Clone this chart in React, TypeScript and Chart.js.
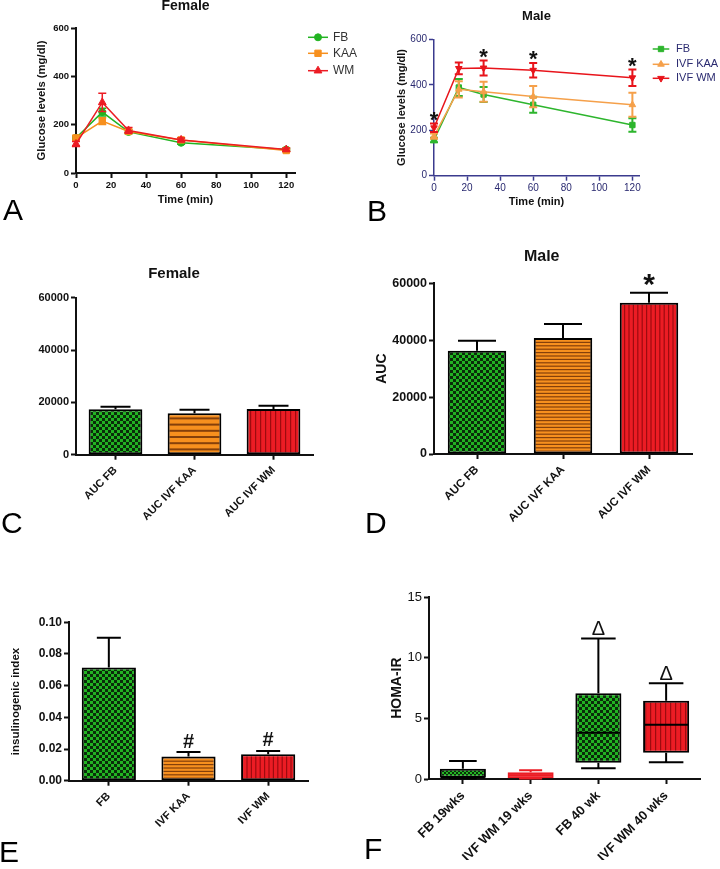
import React, { useEffect, useRef } from 'react';
import { Chart, registerables } from 'chart.js';

Chart.register(...registerables);

// ---------------- DATA ----------------
// Panel A – female glucose tolerance (mg/dl)
const timeMin = [0, 15, 30, 60, 120];
const timeTicks = [0, 20, 40, 60, 80, 100, 120];
const glucoseTicks = [0, 200, 400, 600];
const femaleSeries = ['FB', 'KAA', 'WM'];
const femaleFB = [145, 252, 170, 125, 97];
const femaleFBErr = [8, 16, 8, 6, 5];
const femaleKAA = [145, 215, 172, 137, 93];
const femaleKAAErr = [10, 14, 8, 8, 5];
const femaleWM = [120, 292, 176, 137, 97];
const femaleWMErr = [10, 38, 12, 8, 6];

// Panel B – male glucose tolerance (mg/dl)
const maleSeries = ['FB', 'IVF KAA', 'IVF WM'];
const maleFB = [157, 388, 357, 312, 223];
const maleFBErr = [10, 37, 33, 35, 30];
const maleKAA = [174, 380, 369, 348, 312];
const maleKAAErr = [12, 36, 44, 47, 53];
const maleWM = [211, 472, 474, 464, 431];
const maleWMErr = [19, 26, 33, 32, 36];
const maleSigTimes = [0, 30, 60, 120];

// Panels C / D – AUC
const aucLabels = ['AUC FB', 'AUC IVF KAA', 'AUC IVF WM'];
const aucTicks = [0, 20000, 40000, 60000];
const femaleAUC = [17350, 15800, 17470];
const femaleAUCErr = [1000, 1400, 1200];
const maleAUC = [36300, 40770, 53200];
const maleAUCErr = [3500, 4900, 3500];
const maleAUCSig = ['', '', '*'];

// Panel E – insulinogenic index
const insLabels = ['FB', 'IVF KAA', 'IVF WM'];
const insTicks = [0, 0.02, 0.04, 0.06, 0.08, 0.1];
const insIndex = [0.0714, 0.0152, 0.0167];
const insIndexErr = [0.0189, 0.0029, 0.0021];
const insSig = ['', '#', '#'];

// Panel F – HOMA-IR box plots
const homaLabels = ['FB 19wks', 'IVF WM 19 wks', 'FB 40 wk', 'IVF WM 40 wks'];
const homaTicks = [0, 5, 10, 15];
const homaMin = [0.05, 0.05, 0.88, 1.38];
const homaQ1 = [0.1, 0.06, 1.35, 2.17];
const homaMedian = [0.12, 0.3, 3.82, 4.48];
const homaQ3 = [0.85, 0.55, 7.08, 6.47];
const homaMax = [1.49, 0.72, 11.6, 7.9];
const homaSig = ['', '', '\u0394', '\u0394'];

// ---------------- STYLE ----------------
const FONT = "'Liberation Sans', Arial, Helvetica, sans-serif";
const f = (size: number, weight: string = 'normal') => ({ family: FONT, size, weight, lineHeight: 1.2 });
const css = (size: number, weight: string = 'normal') => `${weight} ${size}px ${FONT}`;

const GREEN = '#22B422';
const GREEN_DARK = '#0A2E0A';
const ORANGE = '#F7901E';
const ORANGE_LINE = '#85400A';
const RED = '#EC1C24';
const RED_LINE = '#9E0B0F';
const B_GREEN = '#2DB52D';
const B_ORANGE = '#F5A04A';
const B_RED = '#E8141B';
const NAVY_AXIS = '#3B3B8E';
const NAVY_TEXT = '#2A2A70';
const INK = '#111111';

type Box = { W: number; H: number; L: number; T: number; R: number; B: number };

// ---------------- PATTERNS ----------------
function checker(ctx: CanvasRenderingContext2D, cell: number, light: string, dark: string) {
  const c = document.createElement('canvas');
  c.width = c.height = cell * 2;
  const g = c.getContext('2d')!;
  g.fillStyle = light;
  g.fillRect(0, 0, cell * 2, cell * 2);
  g.fillStyle = dark;
  g.fillRect(0, 0, cell, cell);
  g.fillRect(cell, cell, cell, cell);
  return ctx.createPattern(c, 'repeat');
}
function stripes(ctx: CanvasRenderingContext2D, period: number, lineW: number, bg: string, fg: string, vertical: boolean) {
  const n = 5;
  const size = Math.round(period * n);
  const c = document.createElement('canvas');
  c.width = vertical ? size : 4;
  c.height = vertical ? 4 : size;
  const g = c.getContext('2d')!;
  g.fillStyle = bg;
  g.fillRect(0, 0, c.width, c.height);
  g.fillStyle = fg;
  for (let k = 0; k < n; k++) {
    const p = (k * size) / n;
    if (vertical) g.fillRect(p, 0, lineW, c.height);
    else g.fillRect(0, p, c.width, lineW);
  }
  return ctx.createPattern(c, 'repeat');
}

// ---------------- PLUGINS ----------------
function drawMarker(ctx: CanvasRenderingContext2D, style: string, x: number, y: number, r: number, rotDeg: number, color: string) {
  ctx.save();
  ctx.fillStyle = color;
  ctx.strokeStyle = color;
  ctx.lineWidth = 1;
  ctx.beginPath();
  if (style === 'circle') {
    ctx.arc(x, y, r, 0, Math.PI * 2);
  } else if (style === 'rect') {
    const s = r / Math.SQRT2;
    ctx.rect(x - s, y - s, 2 * s, 2 * s);
  } else {
    let rad = (rotDeg * Math.PI) / 180;
    ctx.moveTo(x + Math.sin(rad) * r, y - Math.cos(rad) * r);
    rad += (2 * Math.PI) / 3;
    ctx.lineTo(x + Math.sin(rad) * r, y - Math.cos(rad) * r);
    rad += (2 * Math.PI) / 3;
    ctx.lineTo(x + Math.sin(rad) * r, y - Math.cos(rad) * r);
  }
  ctx.closePath();
  ctx.fill();
  ctx.stroke();
  ctx.restore();
}

const errorBarPlugin = {
  id: 'errorBars',
  beforeDatasetDraw(chart: any, args: any) {
    const ds = chart.data.datasets[args.index];
    if (!ds.errors) return;
    const meta = args.meta;
    const ys = chart.scales[meta.yAxisID];
    const ctx = chart.ctx;
    ctx.save();
    ctx.strokeStyle = ds.errorColor;
    ctx.lineWidth = ds.errorWidth;
    meta.data.forEach((el: any, j: number) => {
      const v = meta.controller.getParsed(j).y;
      const e = ds.errors[j];
      const x = el.x;
      const yTop = ys.getPixelForValue(v + e);
      const yMid = ys.getPixelForValue(v);
      const both = ds.errorDir === 'both';
      const yBot = both ? ys.getPixelForValue(v - e) : yMid;
      const cw = ds.errorCap;
      ctx.beginPath();
      ctx.moveTo(x, yBot);
      ctx.lineTo(x, yTop);
      ctx.moveTo(x - cw / 2, yTop);
      ctx.lineTo(x + cw / 2, yTop);
      if (both) {
        ctx.moveTo(x - cw / 2, yBot);
        ctx.lineTo(x + cw / 2, yBot);
      }
      ctx.stroke();
    });
    ctx.restore();
  },
};

const boxPlugin = {
  id: 'boxWhiskers',
  afterDatasetDraw(chart: any, args: any) {
    const ds = chart.data.datasets[args.index];
    if (!ds.boxMedian) return;
    const meta = args.meta;
    const ys = chart.scales[meta.yAxisID];
    const ctx = chart.ctx;
    ctx.save();
    ctx.lineWidth = 2;
    meta.data.forEach((el: any, j: number) => {
      const x = el.x;
      const w = el.width;
      const [q1, q3] = ds.data[j];
      const cw = w * ds.capRatio[j];
      ctx.strokeStyle = ds.whiskerColor[j];
      const yMax = ys.getPixelForValue(ds.boxMax[j]);
      const yMin = ys.getPixelForValue(ds.boxMin[j]);
      const yQ1 = ys.getPixelForValue(q1);
      const yQ3 = ys.getPixelForValue(q3);
      const yMed = ys.getPixelForValue(ds.boxMedian[j]);
      ctx.beginPath();
      ctx.moveTo(x, yQ3);
      ctx.lineTo(x, yMax);
      ctx.moveTo(x - cw / 2, yMax);
      ctx.lineTo(x + cw / 2, yMax);
      ctx.moveTo(x, yQ1);
      ctx.lineTo(x, yMin);
      ctx.moveTo(x - cw / 2, yMin);
      ctx.lineTo(x + cw / 2, yMin);
      ctx.moveTo(x - w / 2 + 1, yMed);
      ctx.lineTo(x + w / 2 - 1, yMed);
      ctx.stroke();
    });
    ctx.restore();
  },
};

const sigPlugin = {
  id: 'sigMarks',
  afterDatasetsDraw(chart: any) {
    const ctx = chart.ctx;
    chart.data.datasets.forEach((ds: any, i: number) => {
      if (!ds.sigMarks) return;
      const meta = chart.getDatasetMeta(i);
      const ys = chart.scales[meta.yAxisID];
      meta.data.forEach((el: any, j: number) => {
        const mark = ds.sigMarks[j];
        if (!mark) return;
        let top: number;
        if (ds.boxMax) top = ds.boxMax[j];
        else top = meta.controller.getParsed(j).y + (ds.errors ? ds.errors[j] : 0);
        const yc = ys.getPixelForValue(top) - ds.sigGap;
        ctx.save();
        ctx.font = ds.sigFont;
        ctx.fillStyle = INK;
        ctx.textAlign = 'center';
        ctx.textBaseline = 'alphabetic';
        const m = ctx.measureText(mark);
        const base = yc + (m.actualBoundingBoxAscent - m.actualBoundingBoxDescent) / 2;
        ctx.fillText(mark, el.x, base);
        ctx.restore();
      });
    });
  },
};

const lineLegendPlugin = {
  id: 'lineLegend',
  afterDraw(chart: any, _args: any, opts: any) {
    const ctx = chart.ctx;
    chart.data.datasets.forEach((ds: any, i: number) => {
      const y = opts.ys[i];
      ctx.save();
      ctx.strokeStyle = ds.borderColor;
      ctx.lineWidth = 1.5;
      ctx.beginPath();
      ctx.moveTo(opts.x0, y);
      ctx.lineTo(opts.x1, y);
      ctx.stroke();
      drawMarker(ctx, ds.pointStyle, (opts.x0 + opts.x1) / 2, y, ds.pointRadius, ds.pointRotation || 0, ds.borderColor);
      ctx.fillStyle = opts.color;
      ctx.font = opts.font;
      ctx.textAlign = 'left';
      ctx.textBaseline = 'middle';
      ctx.fillText(ds.label, opts.textX, y);
      ctx.restore();
    });
  },
};

const panelTitlePlugin = {
  id: 'panelTitle',
  afterDraw(chart: any, _args: any, opts: any) {
    const ctx = chart.ctx;
    ctx.save();
    ctx.font = opts.font;
    ctx.fillStyle = INK;
    ctx.textAlign = 'center';
    ctx.textBaseline = 'middle';
    ctx.fillText(opts.text, opts.x, opts.y);
    ctx.restore();
  },
};

// ---------------- AXIS HELPERS ----------------
const setTicks = (vals: number[]) => (scale: any) => {
  scale.ticks = vals.map((v) => ({ value: v }));
};

function axisStyle(color: string, tickLen: number, width: number) {
  return {
    border: { display: true, color, width },
    grid: { display: true, drawOnChartArea: false, drawTicks: true, tickLength: tickLen, tickWidth: width, tickColor: color, color, offset: false },
  };
}

function yAxis(box: Box, max: number, tickVals: number[], fmt: (v: number) => string, tickFont: any, tickColor: string, axisColor: string, axisW: number, title?: { text: string; size: number; cx: number }) {
  const s: any = {
    type: 'linear',
    position: 'left',
    min: 0,
    max,
    afterBuildTicks: setTicks(tickVals),
    afterFit: (sc: any) => {
      sc.width = box.L;
    },
    ...axisStyle(axisColor, 5, axisW),
    ticks: { font: tickFont, color: tickColor, padding: 2, autoSkip: false, callback: (v: number) => fmt(v) },
  };
  if (title) {
    s.title = { display: true, text: title.text, font: f(title.size, 'bold'), color: INK, padding: { top: title.cx - title.size * 0.6, bottom: 0 } };
  }
  return s;
}

function xLinear(box: Box, max: number, tickVals: number[], tickFont: any, tickColor: string, axisColor: string, axisW: number, title: { text: string; size: number; cy: number }) {
  return {
    type: 'linear',
    position: 'bottom',
    min: 0,
    max,
    afterBuildTicks: setTicks(tickVals),
    afterFit: (sc: any) => {
      sc.height = box.H - box.B;
    },
    ...axisStyle(axisColor, 5, axisW),
    ticks: { font: tickFont, color: tickColor, padding: 2, maxRotation: 0, autoSkip: false },
    title: { display: true, text: title.text, font: f(title.size, 'bold'), color: INK, padding: { top: 0, bottom: box.H - title.cy - title.size * 0.6 } },
  };
}

function xCategory(box: Box, tickFont: any) {
  return {
    type: 'category',
    position: 'bottom',
    offset: true,
    afterFit: (sc: any) => {
      sc.height = box.H - box.B;
    },
    ...axisStyle(INK, 5, 2),
    ticks: { font: tickFont, color: INK, padding: 4, minRotation: 45, maxRotation: 45, autoSkip: false },
  };
}

function baseOptions(box: Box) {
  return {
    responsive: false,
    maintainAspectRatio: false,
    animation: false,
    devicePixelRatio: 1,
    events: [],
    layout: { padding: { left: 0, top: box.T, right: box.W - box.R, bottom: 0 } },
  };
}
const hidden = { legend: { display: false }, tooltip: { enabled: false }, title: { display: false } };

function lineDs(label: string, ys: number[], errs: number[], color: string, style: string, rot: number, r: number, order: number, errW: number) {
  return {
    label,
    data: timeMin.map((t, i) => ({ x: t, y: ys[i] })),
    borderColor: color,
    backgroundColor: color,
    borderWidth: 1.5,
    pointStyle: style,
    pointRotation: rot,
    pointRadius: r,
    pointBackgroundColor: color,
    pointBorderColor: color,
    pointBorderWidth: 1,
    tension: 0,
    clip: false,
    order,
    errors: errs,
    errorDir: 'both',
    errorCap: 8,
    errorWidth: errW,
    errorColor: color,
  };
}

// ---------------- PANEL BUILDERS ----------------
function buildA() {
  const box: Box = { W: 360, H: 214, L: 76, T: 28, R: 295, B: 173 };
  return {
    type: 'line',
    data: {
      datasets: [
        lineDs(femaleSeries[0], femaleFB, femaleFBErr, GREEN, 'circle', 0, 3.5, 2, 1.5),
        lineDs(femaleSeries[1], femaleKAA, femaleKAAErr, ORANGE, 'rect', 0, 4.5, 1, 1.5),
        lineDs(femaleSeries[2], femaleWM, femaleWMErr, RED, 'triangle', 0, 4.5, 0, 1.5),
      ],
    },
    options: {
      ...baseOptions(box),
      plugins: {
        ...hidden,
        panelTitle: { text: 'Female', x: 185.5, y: 6, font: css(14, 'bold') },
        lineLegend: { x0: 308, x1: 328, textX: 333, ys: [37.3, 53.3, 70.7], font: css(12), color: '#333333' },
      },
      scales: {
        x: xLinear(box, 125, timeTicks, f(9.5, 'bold'), INK, INK, 2, { text: 'Time (min)', size: 11, cy: 200 }),
        y: yAxis(box, 600, glucoseTicks, (v) => String(v), f(9.5, 'bold'), INK, INK, 2, { text: 'Glucose levels (mg/dl)', size: 11.3, cx: 42 }),
      },
    },
    plugins: [errorBarPlugin, panelTitlePlugin, lineLegendPlugin],
  };
}

function buildB() {
  const box: Box = { W: 360, H: 214, L: 74, T: 39.3, R: 279, B: 175.7 };
  const wm: any = lineDs(maleSeries[2], maleWM, maleWMErr, B_RED, 'triangle', 180, 3.8, 0, 2);
  wm.sigMarks = timeMin.map((t) => (maleSigTimes.includes(t) ? '*' : ''));
  wm.sigFont = css(22, 'bold');
  wm.sigGap = 7;
  return {
    type: 'line',
    data: {
      datasets: [
        lineDs(maleSeries[0], maleFB, maleFBErr, B_GREEN, 'rect', 0, 3.8, 2, 2),
        lineDs(maleSeries[1], maleKAA, maleKAAErr, B_ORANGE, 'triangle', 0, 3.8, 1, 2),
        wm,
      ],
    },
    options: {
      ...baseOptions(box),
      plugins: {
        ...hidden,
        panelTitle: { text: 'Male', x: 176.5, y: 16, font: css(13, 'bold') },
        lineLegend: { x0: 292.7, x1: 309.3, textX: 316, ys: [49, 64.3, 78.3], font: css(11), color: NAVY_TEXT },
      },
      scales: {
        x: xLinear(box, 124, timeTicks, f(10), NAVY_TEXT, NAVY_AXIS, 1.5, { text: 'Time (min)', size: 11, cy: 201.7 }),
        y: yAxis(box, 600, glucoseTicks, (v) => String(v), f(10), NAVY_TEXT, NAVY_AXIS, 1.5, { text: 'Glucose levels (mg/dl)', size: 11, cx: 42.3 }),
      },
    },
    plugins: [errorBarPlugin, sigPlugin, panelTitlePlugin, lineLegendPlugin],
  };
}

function barConfig(box: Box, labels: string[], values: number[], errs: number[], pats: any[], o: any) {
  const ds: any = {
    data: values,
    backgroundColor: pats,
    borderColor: '#000000',
    borderWidth: 2,
    borderSkipped: false,
    barPercentage: 0.68,
    categoryPercentage: 1,
    clip: false,
    errors: errs,
    errorDir: 'up',
    errorCap: o.errCap,
    errorWidth: 2,
    errorColor: '#000000',
  };
  if (o.sig) {
    ds.sigMarks = o.sig;
    ds.sigFont = o.sigFont;
    ds.sigGap = o.sigGap;
  }
  const plugins: any = { ...hidden };
  if (o.title) plugins.panelTitle = o.title;
  return {
    type: 'bar',
    data: { labels, datasets: [ds] },
    options: {
      ...baseOptions(box),
      plugins,
      scales: {
        x: xCategory(box, o.xFont),
        y: yAxis(box, o.yMax, o.yTicks, o.fmt, o.yFont, INK, INK, 2, o.yTitle),
      },
    },
    plugins: [errorBarPlugin, sigPlugin, panelTitlePlugin],
  };
}

function buildC(ctx: CanvasRenderingContext2D) {
  const box: Box = { W: 360, H: 290, L: 76, T: 47.7, R: 313, B: 204.7 };
  const pats = [checker(ctx, 3, GREEN, GREEN_DARK), stripes(ctx, 6.2, 2, ORANGE, ORANGE_LINE, false), stripes(ctx, 5, 1.2, RED, RED_LINE, true)];
  return barConfig(box, aucLabels, femaleAUC, femaleAUCErr, pats, {
    errCap: 30,
    xFont: f(11, 'bold'),
    yFont: f(11, 'bold'),
    yMax: 60000,
    yTicks: aucTicks,
    fmt: (v: number) => String(v),
    title: { text: 'Female', x: 174, y: 24, font: css(15, 'bold') },
  });
}

function buildD(ctx: CanvasRenderingContext2D) {
  const box: Box = { W: 360, H: 290, L: 74, T: 33.3, R: 332, B: 204 };
  const pats = [checker(ctx, 3, GREEN, GREEN_DARK), stripes(ctx, 3.4, 1.2, ORANGE, ORANGE_LINE, false), stripes(ctx, 4.3, 1.2, RED, RED_LINE, true)];
  return barConfig(box, aucLabels, maleAUC, maleAUCErr, pats, {
    errCap: 38,
    xFont: f(11.5, 'bold'),
    yFont: f(12.5, 'bold'),
    yMax: 60000,
    yTicks: aucTicks,
    fmt: (v: number) => String(v),
    yTitle: { text: 'AUC', size: 14, cx: 22 },
    title: { text: 'Male', x: 181.7, y: 6.5, font: css(16, 'bold') },
    sig: maleAUCSig,
    sigFont: css(30, 'bold'),
    sigGap: 12.7,
  });
}

function buildE(ctx: CanvasRenderingContext2D) {
  const box: Box = { W: 360, H: 300, L: 69, T: 62.3, R: 308, B: 220.7 };
  const pats = [checker(ctx, 3, GREEN, GREEN_DARK), stripes(ctx, 3.3, 1.2, ORANGE, ORANGE_LINE, false), stripes(ctx, 4.3, 1.2, RED, RED_LINE, true)];
  return barConfig(box, insLabels, insIndex, insIndexErr, pats, {
    errCap: 24,
    xFont: f(11, 'bold'),
    yFont: f(12, 'bold'),
    yMax: 0.1,
    yTicks: insTicks,
    fmt: (v: number) => v.toFixed(2),
    yTitle: { text: 'insulinogenic index', size: 11.5, cx: 16 },
    sig: insSig,
    sigFont: css(20, 'bold'),
    sigGap: 11.5,
  });
}

function buildF(ctx: CanvasRenderingContext2D) {
  const box: Box = { W: 360, H: 300, L: 69, T: 37.3, R: 340, B: 219 };
  const pats = [checker(ctx, 2, GREEN, GREEN_DARK), RED, checker(ctx, 3, GREEN, GREEN_DARK), stripes(ctx, 5, 1.2, RED, RED_LINE, true)];
  const ds: any = {
    data: homaQ1.map((q, i) => [q, homaQ3[i]]),
    backgroundColor: pats,
    borderColor: ['#000000', RED, '#000000', '#000000'],
    borderWidth: 2,
    borderSkipped: false,
    barPercentage: 0.68,
    categoryPercentage: 1,
    clip: false,
    boxMin: homaMin,
    boxMax: homaMax,
    boxMedian: homaMedian,
    whiskerColor: ['#000000', RED, '#000000', '#000000'],
    capRatio: [0.6, 0.5, 0.75, 0.75],
    sigMarks: homaSig,
    sigFont: css(20),
    sigGap: 10,
  };
  return {
    type: 'bar',
    data: { labels: homaLabels, datasets: [ds] },
    options: {
      ...baseOptions(box),
      plugins: { ...hidden },
      scales: {
        x: xCategory(box, f(13, 'bold')),
        y: yAxis(box, 15, homaTicks, (v) => String(v), f(13), INK, INK, 2, { text: 'HOMA-IR', size: 14, cx: 37 }),
      },
    },
    plugins: [boxPlugin, sigPlugin],
  };
}

// ---------------- COMPONENTS ----------------
function ChartPanel(props: { left: number; top: number; width: number; height: number; build: (ctx: CanvasRenderingContext2D) => any }) {
  const ref = useRef<HTMLCanvasElement | null>(null);
  useEffect(() => {
    const canvas = ref.current;
    if (!canvas) return;
    const ctx = canvas.getContext('2d');
    if (!ctx) return;
    const chart = new Chart(ctx, props.build(ctx));
    return () => chart.destroy();
  }, []);
  return (
    <canvas
      ref={ref}
      width={props.width}
      height={props.height}
      style={{ position: 'absolute', left: props.left, top: props.top, width: props.width, height: props.height }}
    />
  );
}

const panelLetters = [
  { t: 'A', x: 3, y: 195 },
  { t: 'B', x: 367, y: 196 },
  { t: 'C', x: 1, y: 508 },
  { t: 'D', x: 365, y: 508 },
  { t: 'E', x: -1, y: 837 },
  { t: 'F', x: 364, y: 834 },
];

export default function App() {
  return (
    <div style={{ position: 'absolute', left: 0, top: 0, width: 720, height: 869, background: '#ffffff', overflow: 'hidden' }}>
      <ChartPanel left={0} top={0} width={360} height={214} build={buildA} />
      <ChartPanel left={360} top={0} width={360} height={214} build={buildB} />
      <ChartPanel left={0} top={250} width={360} height={290} build={buildC} />
      <ChartPanel left={360} top={250} width={360} height={290} build={buildD} />
      <ChartPanel left={0} top={560} width={360} height={300} build={buildE} />
      <ChartPanel left={360} top={560} width={360} height={300} build={buildF} />
      {panelLetters.map((p) => (
        <div
          key={p.t}
          style={{ position: 'absolute', left: p.x, top: p.y, fontFamily: FONT, fontSize: 30, lineHeight: 1, color: '#000' }}
        >
          {p.t}
        </div>
      ))}
    </div>
  );
}
